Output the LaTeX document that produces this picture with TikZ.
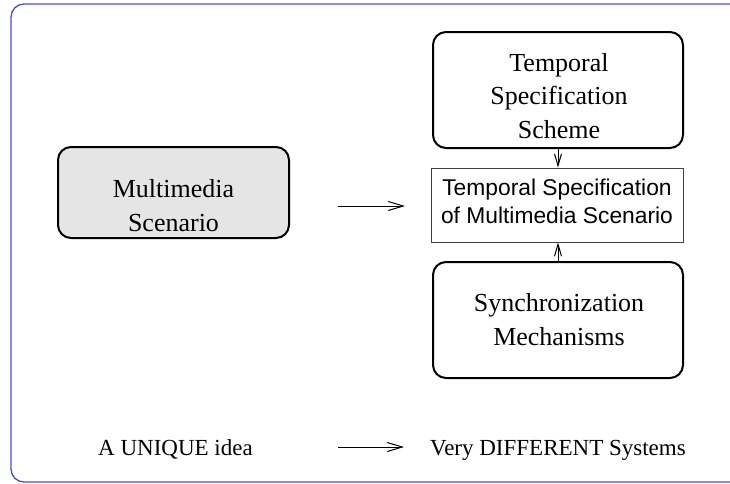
\documentclass[tikz,border=0pt]{standalone}
\usepackage{fontspec}
\setmainfont{Liberation Serif}
\newfontfamily\helv{Liberation Sans}
\usetikzlibrary{arrows.meta}
\definecolor{frameblue}{RGB}{70,70,255}
\definecolor{boxgray}{RGB}{229,229,229}
\tikzset{
  rbox/.style={draw=black, line width=2pt, rounded corners=13pt, inner sep=0pt},
  sbox/.style={draw=black!75, line width=0.9pt, inner sep=0pt},
  btext/.style={font=\fontsize{26}{33.5}\selectfont, align=center, anchor=base, inner sep=0pt},
  stext/.style={font=\helv\fontsize{22.8}{28}\selectfont, align=center, anchor=base, inner sep=0pt},
  ltext/.style={font=\fontsize{23}{28}\selectfont, anchor=base, inner sep=0pt},
  arr/.style={line width=1pt, -{Straight Barb[length=15pt,width=9pt,line width=1pt]}},
  varr/.style={line width=1pt, -{Straight Barb[length=12pt,width=7pt,line width=1pt]}}
}
\begin{document}
\begin{tikzpicture}[x=1pt,y=-1pt]
\clip (0,0) rectangle (730,483);
% slide frame
\draw[frameblue, line width=1.3pt, rounded corners=13pt] (11,4) rectangle (760,482);
% boxes
\node[rbox, fill=boxgray, minimum width=231pt, minimum height=91pt] (mm) at (173.5,192.5) {};
\node[rbox, minimum width=250pt, minimum height=116pt] (tss) at (558,90) {};
\node[sbox, minimum width=252pt, minimum height=74pt] (mid) at (557,205) {};
\node[rbox, minimum width=250pt, minimum height=116pt] (sync) at (558,320) {};
% texts (base anchor = baseline of the last line)
\node[btext] (mmt) at (173.5,231) {Multimedia\\Scenario};
\node[btext] (tsst) at (559,138) {Temporal\\Specification\\Scheme};
\node[stext] (midt) at (557,223) {Temporal Specification\\of Multimedia Scenario};
\node[btext] (synct) at (559,345) {Synchronization\\Mechanisms};
% connectors
\coordinate (a1s) at (338,206);
\coordinate (a1e) at (405,206);
\draw[arr] (a1s) -- (a1e);
\draw[varr] (tss.south -| 558,0) -- (mid.north -| 558,0);
\draw[varr] (sync.north -| 558,0) -- (mid.south -| 558,0);
% bottom line
\node[ltext, anchor=base west] (uniq) at (98,455) {A UNIQUE idea};
\node[ltext, anchor=base west] (diff) at (430,455) {Very DIFFERENT Systems};
\coordinate (a2s) at (338,447);
\coordinate (a2e) at (404,447);
\draw[arr] (a2s) -- (a2e);
\end{tikzpicture}
\end{document}
